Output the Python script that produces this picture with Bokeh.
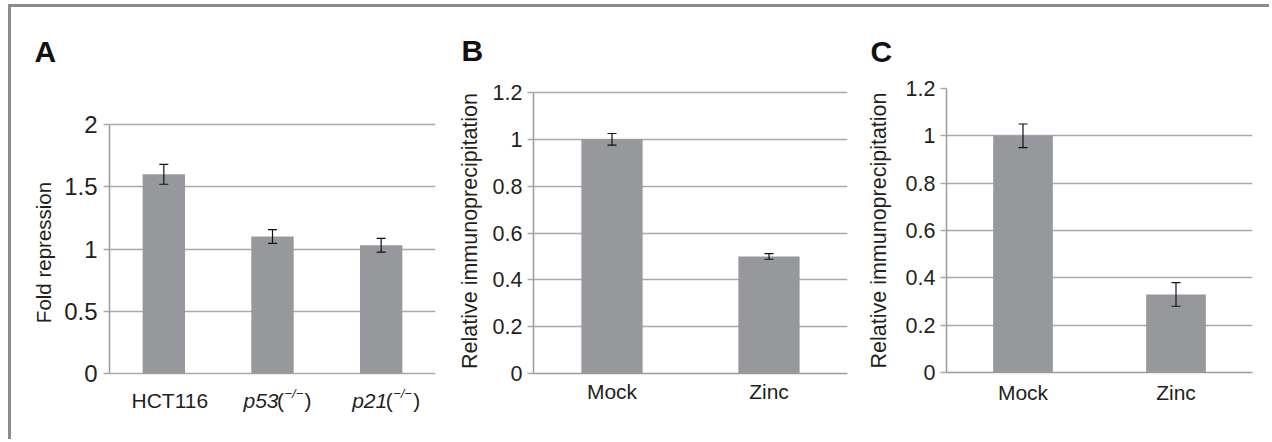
from bokeh.plotting import figure
from bokeh.models import (ColumnDataSource, Whisker, TeeHead, FactorRange, Range1d,
                          FixedTicker, CustomJSTickFormatter, Div)
from bokeh.core.properties import value
from bokeh.embed import file_html
from bokeh.resources import INLINE

# ---------------- data ----------------
a_categories = ["HCT116", "p53", "p21"]
a_values = [1.60, 1.10, 1.03]
a_errors = [0.08, 0.055, 0.055]
a_ticks = [0, 0.5, 1, 1.5, 2]

b_categories = ["Mock", "Zinc"]
b_values = [1.00, 0.50]
b_errors = [0.025, 0.012]

c_categories = ["Mock", "Zinc"]
c_values = [1.00, 0.33]
c_errors = [0.05, 0.05]

bc_ticks = [0, 0.2, 0.4, 0.6, 0.8, 1.0, 1.2]

BAR = "#97989c"
GRID = "#a9a9a9"
AXIS = "#9a9a9a"
TXT = "#231f20"
FONT = "Liberation Sans"

FIG_TOP = 7          # page y of every figure's top edge
FRAME_TOP = 88       # page y of every plot frame's top edge


def panel(cats, vals, errs, ticks, ymin, ymax, letter, ylabel, left, width, height,
          mb_left, mb_right, mb_bottom, tick_size, title_offset,
          title_standoff, ylabel_size, ylabel_standoff, ytick_standoff, xtick_standoff):
    src = ColumnDataSource(dict(
        cat=cats, val=vals,
        upper=[v + e for v, e in zip(vals, errs)],
        lower=[v - e for v, e in zip(vals, errs)],
    ))
    p = figure(x_range=FactorRange(*cats, range_padding=0), y_range=Range1d(ymin, ymax),
               width=width, height=height, output_backend="svg", toolbar_location=None,
               min_border_left=mb_left, min_border_right=mb_right,
               min_border_top=FRAME_TOP - FIG_TOP, min_border_bottom=mb_bottom,
               title=letter,
               styles={"position": "absolute", "left": f"{left}px", "top": f"{FIG_TOP}px"})
    p.outline_line_color = None
    p.background_fill_color = "white"
    p.border_fill_color = "white"
    p.vbar(x="cat", top="val", width=0.39, source=src, fill_color=BAR, line_color=None)
    w = Whisker(base="cat", upper="upper", lower="lower", source=src,
                line_color="#111111", line_width=1.2, level="overlay",
                upper_head=TeeHead(size=9, line_color="#111111", line_width=1.2),
                lower_head=TeeHead(size=9, line_color="#111111", line_width=1.2))
    p.add_layout(w)

    p.title.align = "left"
    p.title.offset = title_offset
    p.title.standoff = title_standoff
    p.title.text_font = FONT
    p.title.text_font_size = "30px"
    p.title.text_font_style = "bold"
    p.title.text_color = "#111111"

    p.xgrid.grid_line_color = None
    p.ygrid.grid_line_color = GRID
    p.ygrid.grid_line_width = 1.5
    p.ygrid.ticker = FixedTicker(ticks=ticks)

    ya = p.yaxis[0]
    ya.bounds = (0, ticks[-1])
    ya.ticker = FixedTicker(ticks=ticks)
    ya.formatter = CustomJSTickFormatter(code="return String(tick);")
    ya.axis_line_color = AXIS
    ya.axis_line_width = 1.5
    ya.major_tick_line_color = GRID
    ya.major_tick_line_width = 1.5
    ya.major_tick_out = 6
    ya.major_tick_in = 0
    ya.minor_tick_line_color = None
    ya.major_label_text_font = FONT
    ya.major_label_text_font_size = tick_size
    ya.major_label_text_color = TXT
    ya.major_label_standoff = ytick_standoff
    ya.axis_label = ylabel
    ya.axis_label_text_font = FONT
    ya.axis_label_text_font_size = ylabel_size
    ya.axis_label_text_font_style = "normal"
    ya.axis_label_text_color = TXT
    ya.axis_label_standoff = ylabel_standoff

    xa = p.xaxis[0]
    xa.axis_line_color = AXIS
    xa.axis_line_width = 1.5
    xa.major_tick_line_color = None
    xa.minor_tick_line_color = None
    xa.major_label_text_font = FONT
    xa.major_label_text_font_size = "21px"
    xa.major_label_text_color = TXT
    xa.major_label_standoff = xtick_standoff
    return p


# Panel A: the top of its value axis (2) sits lower than the shared frame top and
# the frame runs below zero so the mixed-style genotype labels can be drawn as
# text glyphs on the categorical scale.
A_TWO, A_ZERO, A_BOTTOM = 124, 373, 416
a_unit = (A_ZERO - A_TWO) / a_ticks[-1]
a_ymin = -(A_BOTTOM - A_ZERO) / a_unit
a_ymax = a_ticks[-1] + (A_TWO - FRAME_TOP) / a_unit

pA = panel(a_categories, a_values, a_errors, a_ticks, a_ymin, a_ymax, "A", "Fold repression",
           11, 439, 420, 98, 15, 427 - A_BOTTOM, "24px", -75, 42, "20.5px", 6, 6, 0)
pA.xaxis.visible = False

center_src = ColumnDataSource(dict(text=["HCT116"], x=["HCT116"], y=[0], dx=[6], dy=[27]))
paren_src = ColumnDataSource(dict(
    text=["(", ")", "(", ")"],
    x=["p53", "p53", "p21", "p21"],
    y=[0, 0, 0, 0],
    dx=[4.5, 32, 4.5, 32],
    dy=[27, 27, 27, 27],
))
ital_src = ColumnDataSource(dict(text=["p53", "p21"], x=["p53", "p21"], y=[0, 0],
                                 dx=[-29, -29], dy=[27, 27]))
sup_src = ColumnDataSource(dict(text=["\u2212/\u2212", "\u2212/\u2212"], x=["p53", "p21"],
                                y=[0, 0], dx=[12, 12], dy=[20, 20]))

pA.text(x="x", y="y", text="text", x_offset="dx", y_offset="dy", source=center_src,
        text_font=value(FONT), text_font_size="21px", text_color=TXT,
        text_align="center", text_baseline="alphabetic")
pA.text(x="x", y="y", text="text", x_offset="dx", y_offset="dy", source=paren_src,
        text_font=value(FONT), text_font_size="21px", text_color=TXT,
        text_align="left", text_baseline="alphabetic")
pA.text(x="x", y="y", text="text", x_offset="dx", y_offset="dy", source=ital_src,
        text_font=value(FONT), text_font_size="21px", text_font_style="italic",
        text_color=TXT, text_align="left", text_baseline="alphabetic")
pA.text(x="x", y="y", text="text", x_offset="dx", y_offset="dy", source=sup_src,
        text_font=value(FONT), text_font_size="13px", text_font_style="italic",
        text_color=TXT, text_align="left", text_baseline="alphabetic")

# Panel B: value 1.2 sits a few pixels below the shared frame top
B_TOP_TICK, B_ZERO = 92, 373
b_unit = (B_ZERO - B_TOP_TICK) / bc_ticks[-1]
b_ymax = bc_ticks[-1] + (B_TOP_TICK - FRAME_TOP) / b_unit

pB = panel(b_categories, b_values, b_errors, bc_ticks, 0, b_ymax, "B",
           "Relative immunoprecipitation",
           450, 412, 420, 83, 15, 54, "21.5px", -72, 44, "21.5px", 8, 5, 0)
pC = panel(c_categories, c_values, c_errors, bc_ticks, 0, 1.2, "C",
           "Relative immunoprecipitation",
           862, 402, 420, 84, 12, 55, "21.5px", -76, 42, "21.5px", 12, 5, 2)

frame = Div(text="", width=1261, height=435, margin=0,
            styles={"position": "absolute", "left": "8px", "top": "4px",
                    "border-top": "3px solid #8c8c8c", "border-left": "3px solid #8c8c8c"})

open("out.html", "w").write(file_html([frame, pA, pB, pC], INLINE))
